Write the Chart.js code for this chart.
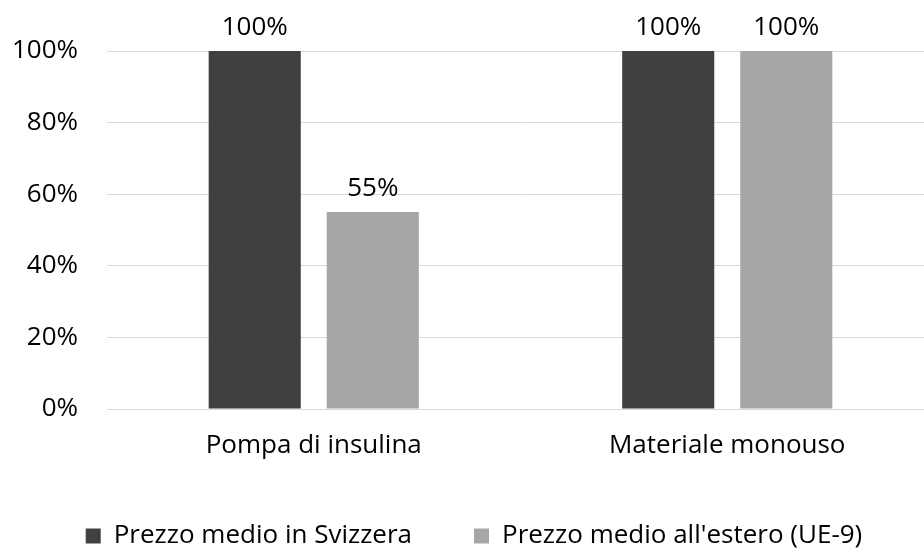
<!DOCTYPE html>
<html lang="it">
<head>
  <meta charset="UTF-8">
  <title>Prezzo medio</title>
  <script src="https://cdn.jsdelivr.net/npm/chart.js"></script>
  <style>
    body { margin: 0; overflow: hidden; background: #fff; }
    #wrap { width: 934px; height: 552px; }
  </style>
</head>
<body>
  <div id="wrap"><canvas id="chart"></canvas></div>

  <script>
    // dati
    const categories = ['Pompa di insulina', 'Materiale monouso'];
    const svizzera = [100, 100];
    const estero = [55, 100];
    const yTicks = [0, 20, 40, 60, 80, 100];

    const fontFamily = "'Open Sans', 'Noto Sans', sans-serif";
    const fontSize = 26;

    // etichette sopra le barre
    const barLabels = {
      id: 'barLabels',
      afterDatasetsDraw(chart) {
        const ctx = chart.ctx;
        ctx.save();
        ctx.font = fontSize + 'px ' + fontFamily;
        ctx.fillStyle = '#000';
        ctx.textAlign = 'center';
        ctx.textBaseline = 'alphabetic';
        chart.data.datasets.forEach((ds, i) => {
          chart.getDatasetMeta(i).data.forEach((bar, j) => {
            ctx.fillText(ds.data[j] + '%', bar.x, bar.y - 16);
          });
        });
        ctx.restore();
      }
    };

    // altezza fissa per la legenda in basso
    const legendHeight = {
      id: 'legendHeight',
      beforeInit(chart) {
        const fit = chart.legend.fit;
        chart.legend.fit = function () {
          fit.bind(chart.legend)();
          this.height = 91;
        };
      }
    };

    new Chart(document.getElementById('chart'), {
      type: 'bar',
      data: {
        labels: categories,
        datasets: [
          { label: 'Prezzo medio in Svizzera', data: svizzera, backgroundColor: '#404040' },
          { label: "Prezzo medio all'estero (UE-9)", data: estero, backgroundColor: '#a6a6a6' }
        ]
      },
      options: {
        responsive: true,
        maintainAspectRatio: false,
        animation: false,
        layout: { padding: { top: 51, left: 14, right: 0, bottom: 0 } },
        datasets: { bar: { categoryPercentage: 0.571, barPercentage: 0.78 } },
        scales: {
          x: {
            grid: { display: false, drawTicks: false },
            border: { color: '#d9d9d9' },
            ticks: { color: '#000', font: { family: fontFamily, size: fontSize }, padding: 21 },
            afterFit: axis => { axis.height = 52; axis.paddingLeft = 0; axis.paddingRight = 0; }
          },
          y: {
            min: 0, max: 100,
            afterBuildTicks: axis => { axis.ticks = yTicks.map(v => ({ value: v })); },
            grid: { color: '#d9d9d9', drawTicks: false },
            border: { display: false },
            ticks: {
              color: '#000', padding: 29,
              font: { family: fontFamily, size: fontSize },
              callback: v => v + '%'
            },
            afterFit: axis => { axis.width = 93; }
          }
        },
        plugins: {
          tooltip: { enabled: false },
          legend: {
            position: 'bottom',
            labels: {
              color: '#000', boxWidth: 15, boxHeight: 15, padding: 62,
              font: { family: fontFamily, size: fontSize }
            }
          }
        }
      },
      plugins: [barLabels, legendHeight]
    });
  </script>
</body>
</html>
